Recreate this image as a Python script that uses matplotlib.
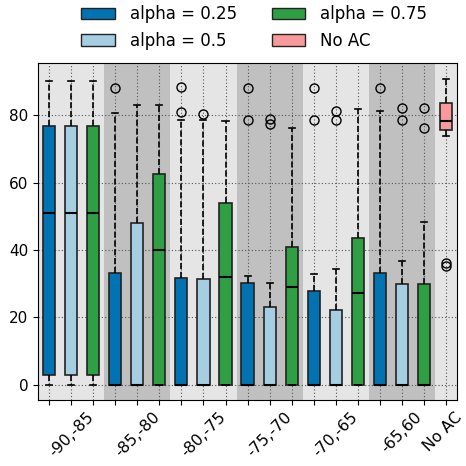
import matplotlib
matplotlib.use("Agg")
import matplotlib.pyplot as plt
import matplotlib.transforms as mtransforms
from matplotlib.patches import Patch

groups = ["-90,-85", "-85,-80", "-80,-75", "-75,-70", "-70,-65", "-65,60"]
series = ["alpha = 0.25", "alpha = 0.5", "alpha = 0.75"]
colors = ["#0173b2", "#a6cee3", "#2ea043"]
noac_label = "No AC"
noac_color = "#f89a9b"

# box statistics per group, per series: (whislo, q1, med, q3, whishi, fliers)
stats_025 = [
    (0, 3.0, 51.0, 76.7, 90.0, []),
    (0, 0, 0, 33.3, 80.5, [88.2]),
    (0, 0, 0, 31.6, 78.5, [88.4, 80.8]),
    (0, 0, 0, 30.2, 32.3, [88.2, 78.5]),
    (0, 0, 0, 27.7, 32.9, [88.2, 78.5]),
    (0, 0, 0, 33.2, 81.2, [88.2]),
]
stats_05 = [
    (0, 3.0, 51.0, 76.7, 90.0, []),
    (0, 0, 0, 48.1, 83.0, []),
    (0, 0, 0, 31.3, 78.5, [80.3]),
    (0, 0, 0, 23.0, 30.1, [79.0, 77.3]),
    (0, 0, 0, 22.1, 34.4, [81.2, 78.5]),
    (0, 0, 0, 29.8, 36.6, [82.0, 78.5]),
]
stats_075 = [
    (0, 3.0, 51.0, 76.7, 90.0, []),
    (0, 0, 39.9, 62.4, 83.0, []),
    (0, 0, 32.0, 53.8, 78.3, []),
    (0, 0, 28.9, 41.0, 76.1, []),
    (0, 0, 27.3, 43.5, 81.7, []),
    (0, 0, 0, 29.9, 48.4, [82.2, 76.2]),
]
stats_noac = (73.8, 75.7, 78.4, 83.6, 90.7, [36.0, 35.2])

def to_dict(s):
    return dict(whislo=s[0], q1=s[1], med=s[2], q3=s[3], whishi=s[4], fliers=s[5])

all_series = [stats_025, stats_05, stats_075]

fig = plt.figure(figsize=(4.66, 4.66), dpi=100)
ax = fig.add_axes([0.0815, 0.1416, 0.8995, 0.7234])
ax.set_facecolor("#e5e5e5")

ng = len(groups)
for g in range(ng + 1):
    c = "#e5e5e5" if g % 2 == 0 else "#c0c0c0"
    x0 = g * 3 - 0.5
    x1 = x0 + (3 if g < ng else 1)
    ax.axvspan(x0, x1, color=c, zorder=0, lw=0)

flierprops = dict(marker="o", markerfacecolor="none", markeredgecolor="black",
                  markersize=6.5, markeredgewidth=1.0)
whiskerprops = dict(linestyle="--", color="black", linewidth=1.2)
capprops = dict(color="black", linewidth=1.2)
medianprops = dict(color="black", linewidth=1.5)

for si, sdata in enumerate(all_series):
    pos = [g * 3 + si for g in range(ng)]
    res = ax.bxp([to_dict(s) for s in sdata], positions=pos, widths=0.55,
                 patch_artist=True, flierprops=flierprops,
                 whiskerprops=whiskerprops, capprops=capprops,
                 medianprops=medianprops, manage_ticks=False, zorder=3)
    for b in res["boxes"]:
        b.set_facecolor(colors[si])
        b.set_edgecolor("#222222")
        b.set_linewidth(1.2)

res = ax.bxp([to_dict(stats_noac)], positions=[ng * 3], widths=0.55,
             patch_artist=True, flierprops=flierprops,
             whiskerprops=whiskerprops, capprops=capprops,
             medianprops=medianprops, manage_ticks=False, zorder=3)
for b in res["boxes"]:
    b.set_facecolor(noac_color)
    b.set_edgecolor("#222222")
    b.set_linewidth(1.2)

nt = ng * 3 + 1
ax.set_xticks(range(nt))
labels = [""] * nt
for g in range(ng):
    labels[g * 3 + 1] = groups[g]
labels[-1] = noac_label
ax.set_xticklabels(labels, rotation=45, fontsize=11.3)
last = ax.get_xticklabels()[-1]
last.set_transform(last.get_transform() +
                   mtransforms.ScaledTranslation(-3 / 100, 0, fig.dpi_scale_trans))
ax.set_xlim(-0.5, nt - 0.5)
ax.set_ylim(-4.5, 95.5)
ax.set_yticks([0, 20, 40, 60, 80])
ax.tick_params(axis="y", labelsize=11)
ax.set_axisbelow(True)
ax.grid(True, linestyle=(0, (1, 2)), color="#555555", linewidth=0.8, zorder=1)

handles = [Patch(facecolor=colors[0], edgecolor="#222222", label=series[0]),
           Patch(facecolor=colors[1], edgecolor="#222222", label=series[1]),
           Patch(facecolor=colors[2], edgecolor="#222222", label=series[2]),
           Patch(facecolor=noac_color, edgecolor="#222222", label=noac_label)]
fig.legend(handles=handles, loc="upper left", bbox_to_anchor=(0.142, 1.021),
           ncol=2, frameon=False, fontsize=12, handlelength=2.0,
           handletextpad=0.9, columnspacing=2.1, labelspacing=0.52)

fig.savefig("out.png", dpi=100)
